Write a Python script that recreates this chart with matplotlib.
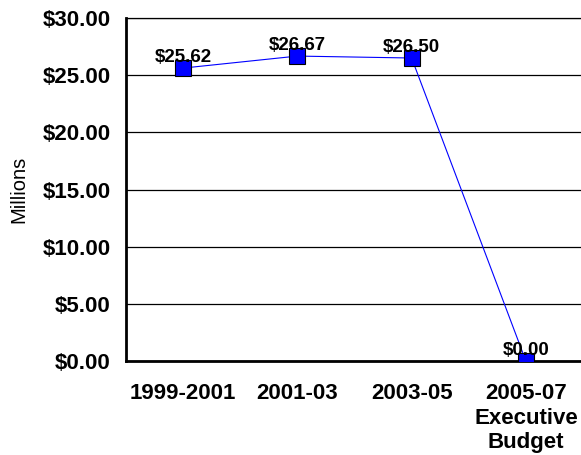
import matplotlib
matplotlib.use("Agg")
import matplotlib.pyplot as plt
import numpy as np

# biennium spending, millions of dollars
periods = ["1999-2001", "2001-03", "2003-05", "2005-07\nExecutive\nBudget"]
values = [25.62, 26.67, 26.50, 0.00]
yticks = [0, 5, 10, 15, 20, 25, 30]

plt.rcParams['font.family'] = ['Liberation Sans', 'DejaVu Sans']

fig = plt.figure(figsize=(5.81, 4.55), dpi=100)
ax = fig.add_axes([126/581, 94/455, 457/581, 343/455])

x = np.arange(len(values)) + 0.5
ax.plot(x, values, color='#0000ff', linewidth=0.8, marker='s', markersize=11.5,
        markerfacecolor='#0000ff', markeredgecolor='black', markeredgewidth=0.8, zorder=3)

for xi, v in zip(x, values):
    ax.annotate("$%.2f" % v, (xi, v), xytext=(0, 4.3), textcoords='offset points',
                ha='center', va='baseline', fontsize=13.5, fontweight='bold',
                annotation_clip=False, zorder=4)

ax.set_xlim(0, 4)
ax.set_ylim(0, 30)
ax.set_yticks(yticks)
ax.set_yticklabels(["$%.2f" % t for t in yticks], fontsize=16, fontweight='bold')
ax.set_xticks(x)
ax.set_xticklabels(periods, fontsize=16, fontweight='bold', linespacing=1.22)
ax.tick_params(axis='both', length=0)
ax.tick_params(axis='y', pad=11)
ax.tick_params(axis='x', pad=16)

ax.yaxis.grid(True, color='black', linewidth=0.9)
ax.set_axisbelow(True)
ax.spines['right'].set_visible(False)
ax.spines['top'].set_linewidth(0.9)
ax.spines['left'].set_linewidth(2)
ax.spines['bottom'].set_linewidth(2)

ax.set_ylabel("Millions", fontsize=14.5, labelpad=10)

fig.savefig("out.png", dpi=100)
